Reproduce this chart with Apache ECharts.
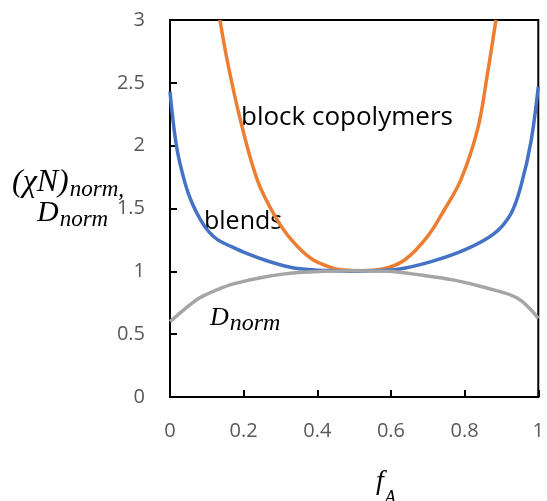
<!DOCTYPE html>
<html>
<head>
<meta charset="utf-8">
<title>chi N norm</title>
<script src="https://cdn.jsdelivr.net/npm/echarts@6/dist/echarts.min.js"></script>
</head>
<body style="margin:0;background:#fff">
<div id="container" style="width:547px;height:501px;"></div>
<script type="text/javascript">
// block copolymers
var fBlock = [0.1355, 0.158, 0.194, 0.238, 0.285, 0.33, 0.384, 0.438, 0.474, 0.52, 0.574, 0.637, 0.70, 0.745, 0.79, 0.836, 0.863, 0.885];
var vBlock = [3.0, 2.64, 2.17, 1.72, 1.44, 1.25, 1.10, 1.03, 1.01, 1.005, 1.016, 1.09, 1.28, 1.49, 1.73, 2.14, 2.59, 3.0];
// blends
var fBlend = [0, 0.018, 0.041, 0.059, 0.081, 0.104, 0.13, 0.167, 0.21, 0.257, 0.33, 0.393, 0.45, 0.5, 0.55, 0.619, 0.709, 0.80, 0.88, 0.926, 0.953, 0.98, 1.0];
var vBlend = [2.43, 1.99, 1.70, 1.55, 1.42, 1.32, 1.25, 1.196, 1.14, 1.09, 1.03, 1.01, 1.005, 1.0, 1.005, 1.016, 1.077, 1.17, 1.30, 1.46, 1.68, 2.03, 2.47];
// D_norm
var fD = [0, 0.04, 0.081, 0.125, 0.172, 0.257, 0.348, 0.49, 0.592, 0.682, 0.772, 0.863, 0.944, 1.0];
var vD = [0.60, 0.70, 0.79, 0.85, 0.90, 0.955, 0.99, 1.005, 1.0, 0.97, 0.93, 0.865, 0.785, 0.626];

var xTicks = ['0', '0.2', '0.4', '0.6', '0.8', '1'];

function pairs(xs, ys) {
    var out = [];
    for (var i = 0; i < xs.length; i++) out.push([xs[i], ys[i]]);
    return out;
}

var serif = '"Liberation Serif", "DejaVu Serif", serif';
var sans = '"Open Sans", "Noto Sans", sans-serif';

var ctx = document.createElement('canvas').getContext('2d');
function fontOf(size, family, italic) {
    return (italic ? 'italic ' : '') + size + 'px ' + family;
}
function mtext(x, y, str, size, family, italic) {
    return {
        type: 'text', x: x, y: y,
        style: { text: str, fill: '#000', font: fontOf(size, family, italic), verticalAlign: 'middle' }
    };
}
// base symbol with a subscript right after it
function withSub(x, y, base, size, sub, subSize, dy) {
    ctx.font = fontOf(size, serif, true);
    var w = ctx.measureText(base).width;
    return [mtext(x, y, base, size, serif, true), mtext(x + w + 1, y + dy, sub, subSize, serif, true)];
}

var graphics = [
    mtext(241, 118, 'block copolymers', 26, sans, false),
    mtext(204, 222, 'blends', 25, sans, false)
]
    .concat(withSub(210, 318, 'D', 26, 'norm', 24, 6))
    .concat(withSub(12, 183, '(\u03C7N)', 32, 'norm,', 23, 7))
    .concat(withSub(37, 213, 'D', 30, 'norm', 23, 7))
    .concat(withSub(376, 482, 'f', 28, 'A', 18, 16));

var option = {
    animation: false,
    grid: { left: 170, right: 8, top: 20, bottom: 104, show: true, borderColor: '#000', borderWidth: 2, backgroundColor: 'transparent' },
    xAxis: {
        type: 'value', min: 0, max: 1, interval: 0.2,
        axisLine: { lineStyle: { color: '#000', width: 2 } },
        axisTick: { inside: true, length: 7, lineStyle: { color: '#000', width: 2 } },
        splitLine: { show: false },
        axisLabel: {
            margin: 24, color: '#595959', fontSize: 20, fontFamily: sans,
            formatter: function (v) { return xTicks[Math.round(v / 0.2)]; }
        }
    },
    yAxis: {
        type: 'value', min: 0, max: 3, interval: 0.5,
        axisLine: { lineStyle: { color: '#000', width: 2 } },
        axisTick: { inside: true, length: 7, lineStyle: { color: '#000', width: 2 } },
        splitLine: { show: false },
        axisLabel: { margin: 25, color: '#595959', fontSize: 20, fontFamily: sans }
    },
    series: [
        { name: 'block copolymers', type: 'line', smooth: 0.35, symbol: 'none',
          lineStyle: { color: '#ED7D31', width: 3.5 }, data: pairs(fBlock, vBlock) },
        { name: 'blends', type: 'line', smooth: 0.35, symbol: 'none',
          lineStyle: { color: '#4472C4', width: 3.5 }, data: pairs(fBlend, vBlend) },
        { name: 'Dnorm', type: 'line', smooth: 0.35, symbol: 'none',
          lineStyle: { color: '#A5A5A5', width: 3.5 }, data: pairs(fD, vD) }
    ],
    graphic: graphics
};

var myChart = echarts.init(document.getElementById('container'));
myChart.setOption(option);
</script>
</body>
</html>
